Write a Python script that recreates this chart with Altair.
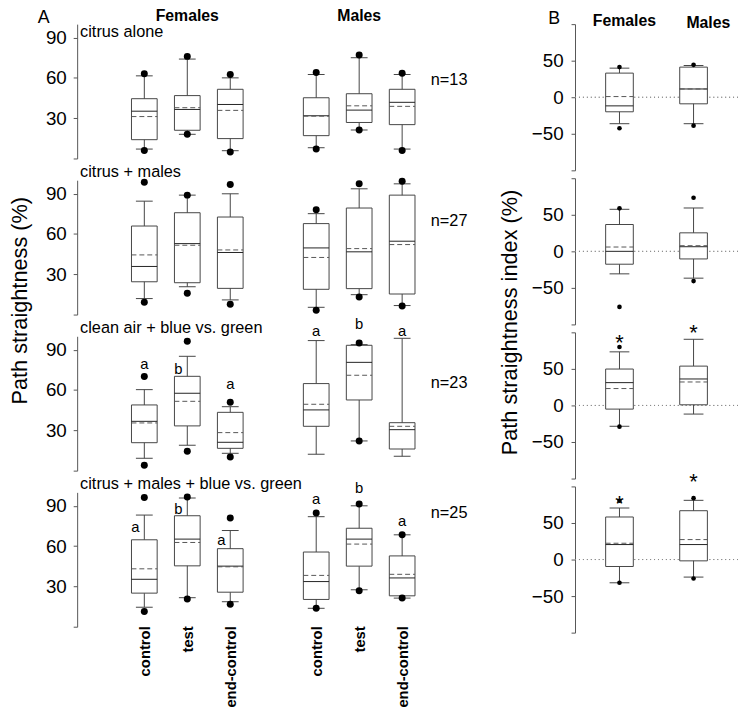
import altair as alt
import pandas as pd

FONT = "Liberation Sans"
LINE = "#444444"

GROUPS = ["Females", "Males"]
TREATMENTS = ["control", "test", "end-control"]
KEYS_A = [f"{g}|{t}" for g in GROUPS for t in TREATMENTS]
DOMAIN_A = ["||"] + KEYS_A[:3] + ["|"] + KEYS_A[3:]

ROW_TITLES = ["citrus alone", "citrus + males", "clean air + blue vs. green",
              "citrus + males + blue vs. green"]
N_LABELS = ["n=13", "n=27", "n=23", "n=25"]

# Panel A (order: F-control, F-test, F-end-control, M-control, M-test, M-end-control)
A_HI_DOT = [[63, 76, 62.5, 64, 77, 63.5],
            [98.5, 88.9, 96.8, 78, 97.3, 99.3],
            [70, 96.3, 50.9, None, 95, None],
            [96.1, 96.6, 80.9, 84.6, 91.4, 68.4]]
A_HI_CAP = [[61.5, 74, 60, 62.5, 75, 62.5],
            [84.4, 88.9, 89.9, 75.1, 93.6, 97.3],
            [60.3, 85.1, 47.6, 96.8, 93.8, 98.5],
            [83.1, 95.8, 71.6, 81.9, 90, 68.4]]
A_Q3 = [[44.5, 46.8, 51.5, 45.2, 48.2, 51.5],
        [65.9, 75.8, 72.6, 67.7, 79.3, 88.9],
        [48.9, 70.2, 43.4, 64.8, 93.3, 35.7],
        [64.7, 82.6, 58.1, 55.6, 73.3, 52.7]]
A_MED = [[35.2, 36.5, 40.2, 31.8, 36, 41.8],
         [35.8, 52.8, 46.2, 49.6, 46.7, 54.6],
         [36.7, 57.6, 21.1, 45.2, 80.6, 30.5],
         [35.3, 65.2, 45.1, 33.6, 65.2, 36.3]]
A_MEAN = [[31.2, 37.8, 35.8, 31.5, 39.2, 38.8],
          [44.4, 51.6, 48.1, 42.5, 49.1, 52.1],
          [35.5, 51.6, 28.3, 49.4, 71, 33],
          [43.1, 62.7, 44.6, 38.2, 61.5, 39]]
A_Q1 = [[14, 21, 14.8, 17, 26.8, 25.2],
        [24.4, 23.7, 19.5, 18.8, 19.3, 15.3],
        [20.8, 33.3, 16.6, 33, 52.6, 16.1],
        [25, 45.3, 25.7, 20.3, 45.1, 23]]
A_LO_CAP = [[7, 18, 5.8, 8, 21.2, 7],
            [11.9, 20.7, 10.9, 5.4, 14.8, 6.7],
            [9.2, 18.9, 12.9, 12.2, 22.1, 10.7],
            [14.5, 21.6, 18.6, 13.7, 27.5, 21.3]]
A_LO_DOT = [[6, 18, 4.8, 7, 21.2, 6],
            [9.1, 15.8, 7.7, 3.2, 13.1, 6.4],
            [4, 14.4, 10.2, None, 22.1, None],
            [11.3, 20.6, 16.7, 13.7, 26.7, 21.3]]
A_LETTERS = [None, None,
             ["a", "b", "a", "a", "b", "a"],
             ["a", "b", "a", "a", "b", "a"]]
A_LETTER_Y = [None, None,
              [79.4, 75.9, 64.3, 103.7, 109, 103.7],
              [74, 87.5, 64.2, 95.3, 103.2, 78.9]]
A_LETTER_SIDE = [None, None,
                 ["above", "left", "above", "above", "above", "above"],
                 ["left", "left", "left", "above", "above", "above"]]

# Panel B (order: Females, Males)
B_HI_DOT = [[41.2, 44.3], [58.8, 73.3], [80, None], [80.5, 84]]
B_HI_CAP = [[39.8, 43.4], [57.5, 59.3], [73.3, 90.5], [70.5, 81]]
B_Q3 = [[33, 41.2], [36.7, 25.3], [49.8, 53.8], [58.2, 66.8]]
B_MED = [[-11.8, 11.3], [0, 6.3], [31.2, 36.2], [20.5, 20.5]]
B_MEAN = [[0.9, 11.3], [5.9, 7.7], [23.1, 32.1], [22.3, 27.3]]
B_Q1 = [[-19.9, -9], [-17.6, -10.4], [-5, 0.9], [-9.5, -1.8]]
B_LO_CAP = [[-36.2, -36.2], [-30.8, -36.7], [-28.5, -11.8], [-31.8, -24]]
B_LO_DOT = [[-42.5, -38.9], [-76, -40.7], [-29, None], [-31.8, -26]]
B_STAR_Y = [[None, None], [None, None], [93.7, 107.6], [84, 114.5]]

A_W, A_H, A_SP = 353.5, 136, 22
B_W, B_H, B_SP = 165, 148, 8
N_Y = [57, 41, 47, 21]

xscale_A = alt.Scale(type="point", domain=DOMAIN_A, padding=0.563)
xscale_B = alt.Scale(type="point", domain=GROUPS, padding=0.6)
yscale_A = alt.Scale(domain=[0, 100], nice=False, zero=False)
yscale_B = alt.Scale(domain=[-100, 100], nice=False, zero=False)
yaxis_A = alt.Axis(values=[0, 30, 60, 90], labelExpr="datum.value == 0 ? '' : datum.label",
                   tickSize=4, labelPadding=7, labelFontSize=19, title=None, grid=False)
yaxis_B = alt.Axis(values=[-100, -50, 0, 50, 100],
                   labelExpr="abs(datum.value) == 100 ? '' : datum.label",
                   tickSize=4, labelPadding=8, labelFontSize=19, title=None, grid=False)


def box_layers(df, xscale, xaxis, yscale, yaxis, box_w, cap_w, dot_size):
    def X():
        return alt.X("key:N", scale=xscale, axis=xaxis)

    def Y(f):
        return alt.Y(f"{f}:Q", scale=yscale, axis=yaxis)

    base = alt.Chart(df)
    hw, cw = box_w / 2, cap_w / 2
    return [
        base.mark_rule(color=LINE, strokeWidth=1).encode(x=X(), y=Y("lo_cap"), y2="hi_cap:Q"),
        base.mark_bar(size=box_w, fill="white", stroke=LINE, strokeWidth=1).encode(
            x=X(), y=Y("q1"), y2="q3:Q"),
        base.mark_rule(color="#222222", strokeWidth=1, xOffset=-hw, x2Offset=hw).encode(
            x=X(), x2="key:N", y=Y("med")),
        base.mark_rule(color="#555555", strokeWidth=1, strokeDash=[5, 3], xOffset=-hw, x2Offset=hw).encode(
            x=X(), x2="key:N", y=Y("mean")),
        base.mark_rule(color=LINE, strokeWidth=1, xOffset=-cw, x2Offset=cw).encode(
            x=X(), x2="key:N", y=Y("hi_cap")),
        base.mark_rule(color=LINE, strokeWidth=1, xOffset=-cw, x2Offset=cw).encode(
            x=X(), x2="key:N", y=Y("lo_cap")),
        base.mark_circle(size=dot_size, color="black", opacity=1).encode(x=X(), y=Y("hi_dot")),
        base.mark_circle(size=dot_size, color="black", opacity=1).encode(x=X(), y=Y("lo_dot")),
    ]


def text_chart(t, **kw):
    enc = {k: kw.pop(k) for k in ["x", "y"] if k in kw}
    return alt.Chart(pd.DataFrame({"t": [t]})).mark_text(**kw).encode(text="t:N", **enc)


rows_A = []
for i in range(4):
    df = pd.DataFrame({"key": KEYS_A, "hi_dot": A_HI_DOT[i], "hi_cap": A_HI_CAP[i], "q3": A_Q3[i],
                       "med": A_MED[i], "mean": A_MEAN[i], "q1": A_Q1[i],
                       "lo_cap": A_LO_CAP[i], "lo_dot": A_LO_DOT[i]})
    if i == 3:
        xaxis = alt.Axis(labelAngle=270, labelFontWeight="bold", labelFontSize=15, ticks=False,
                         domain=False, labelPadding=-1, title=None,
                         labelExpr="split(datum.value, '|')[1]")
    else:
        xaxis = None
    layers = box_layers(df, xscale_A, xaxis, yscale_A, yaxis_A, 26, 17, 50)
    layers.append(text_chart(ROW_TITLES[i], align="left", baseline="alphabetic", fontSize=16.5,
                             x=alt.value(3), y=alt.value(13 if i == 0 else -3)))
    layers.append(text_chart(N_LABELS[i], align="left", baseline="middle", fontSize=16.5,
                             x=alt.value(358), y=alt.value(N_Y[i])))
    if A_LETTERS[i]:
        ldf = pd.DataFrame({"key": KEYS_A, "letter": A_LETTERS[i], "y": A_LETTER_Y[i],
                            "side": A_LETTER_SIDE[i]})
        for side, dx in [("above", 0), ("left", -9)]:
            layers.append(alt.Chart(ldf).transform_filter(alt.datum.side == side).mark_text(
                fontSize=15, baseline="alphabetic", dy=5, dx=dx).encode(
                x=alt.X("key:N", scale=xscale_A, axis=xaxis),
                y=alt.Y("y:Q", scale=yscale_A, axis=yaxis_A), text="letter:N"))
    if i == 0:
        hdf = pd.DataFrame({"key": [f"{g}|test" for g in GROUPS], "t": GROUPS})
        layers.append(alt.Chart(hdf).mark_text(fontSize=16, fontWeight="bold", baseline="alphabetic").encode(
            x=alt.X("key:N", scale=xscale_A, axis=xaxis), y=alt.value(-3), text="t:N"))
        layers.append(text_chart("A", align="left", baseline="alphabetic", fontSize=18,
                                 x=alt.value(-40), y=alt.value(-1)))
    if i == 1:
        layers.append(text_chart("Path straightness (%)", angle=270, align="center", baseline="middle",
                                 fontSize=22, x=alt.value(-58), y=alt.value(122)))
    rows_A.append(alt.layer(*layers).properties(width=A_W, height=A_H))

rows_B = []
for i in range(4):
    df = pd.DataFrame({"key": GROUPS, "hi_dot": B_HI_DOT[i], "hi_cap": B_HI_CAP[i], "q3": B_Q3[i],
                       "med": B_MED[i], "mean": B_MEAN[i], "q1": B_Q1[i],
                       "lo_cap": B_LO_CAP[i], "lo_dot": B_LO_DOT[i], "star": B_STAR_Y[i]})
    zero = alt.Chart(df).mark_rule(color="#888888", strokeDash=[1, 3], strokeWidth=1).encode(
        y=alt.Y(datum=0, scale=yscale_B, axis=yaxis_B))
    layers = [zero] + box_layers(df, xscale_B, None, yscale_B, yaxis_B, 28, 20, 22)
    layers.append(alt.Chart(df).mark_text(fontSize=22, baseline="alphabetic", dy=13).encode(
        x=alt.X("key:N", scale=xscale_B, axis=None),
        y=alt.Y("star:Q", scale=yscale_B, axis=yaxis_B), text=alt.value("*")))
    if i == 0:
        layers.append(text_chart("Females", fontSize=16, fontWeight="bold", baseline="alphabetic",
                                 align="center", x=alt.value(50), y=alt.value(2)))
        layers.append(text_chart("Males", fontSize=16, fontWeight="bold", baseline="alphabetic",
                                 align="center", x=alt.value(135), y=alt.value(4)))
        layers.append(text_chart("B", align="left", baseline="alphabetic", fontSize=18,
                                 x=alt.value(-27), y=alt.value(0)))
    if i == 1:
        layers.append(text_chart("Path straightness index (%)", angle=270, align="center",
                                 baseline="middle", fontSize=22, x=alt.value(-66), y=alt.value(146)))
    rows_B.append(alt.layer(*layers).properties(width=B_W, height=B_H))

col_A = alt.vconcat(*rows_A, spacing=A_SP, bounds="flush")
col_B = alt.vconcat(*rows_B, spacing=B_SP, bounds="flush")

# A's right bound is its n= labels (~394 px past its axis); B's left bound is its title (~77 px before its axis)
H_SPACING = 579 - 77 - 394 - 77

chart = alt.hconcat(col_A, col_B, spacing=H_SPACING).properties(
    padding={"left": 0, "top": -4, "right": 0, "bottom": 0}).configure(
    font=FONT).configure_view(stroke=None).configure_axis(
    labelFont=FONT, labelColor="black", domainColor="#555555", tickColor="#555555", grid=False
).configure_text(font=FONT, color="black")

chart.save("out.html", embed_options={"renderer": "svg", "actions": False})
